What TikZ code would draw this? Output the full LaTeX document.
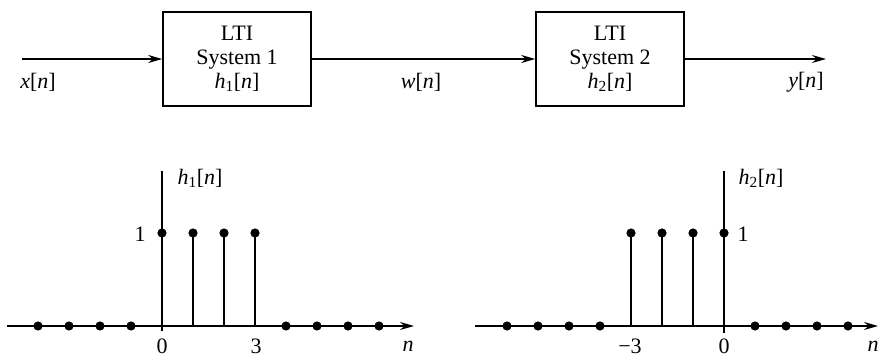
\documentclass[tikz,border=0pt]{standalone}
\usepackage{fontspec}
\setmainfont{Liberation Serif}
\usetikzlibrary{arrows.meta}

\tikzset{
  block/.style={draw, line width=1.6pt, minimum width=148pt, minimum height=94pt, align=center, inner sep=0pt},
  sig/.style={line width=1.6pt, -{Stealth[length=14pt, width=8pt]}},
  stem/.style={line width=1.6pt},
  lbl/.style={inner sep=0pt}
}
\newcommand{\sq}[1]{\textit{#1}[\textit{n}]}

\begin{document}
\begin{tikzpicture}[x=1pt, y=-1pt, font=\fontsize{22}{24}\selectfont]
\useasboundingbox (0,0) rectangle (883,358);

% Blocks
\node[block] (sys1) at (237,59) {LTI\\System 1\\\textit{h}\textsubscript{1}[\textit{n}]};
\node[block] (sys2) at (610,59) {LTI\\System 2\\\textit{h}\textsubscript{2}[\textit{n}]};

% Signals
\coordinate (in) at (22,59);
\coordinate (out) at (826,59);
\draw[sig] (in) -- (sys1);
\draw[sig] (sys1) -- (sys2);
\draw[sig] (sys2) -- (out);
\node[lbl] (xlab) at (38,82) {\sq{x}};
\node[lbl] (wlab) at (421,82) {\sq{w}};
\node[lbl] (ylab) at (806,82) {\sq{y}};

% Plot of h1[n]
\coordinate (ax1l) at (7,326);
\coordinate (ax1r) at (414,326);
\coordinate (ax1t) at (162,171);
\coordinate (ax1b) at (162,331);
\draw[sig] (ax1l) -- (ax1r);
\draw[stem] (ax1b) -- (ax1t);
\foreach \k in {-4,...,7} {
  \ifnum\k<0 \fill (162+31*\k,326) circle (4.6);
  \else\ifnum\k>3 \fill (162+31*\k,326) circle (4.6);
  \else
    \draw[stem] (162+31*\k,326) -- (162+31*\k,233);
    \fill (162+31*\k,233) circle (4.6);
  \fi\fi
}
\node[lbl] (h1lab) at (200,178) {\textit{h}\textsubscript{1}[\textit{n}]};
\node[lbl] (one1) at (140,234) {1};
\node[lbl] (zero1) at (162,346) {0};
\node[lbl] (three1) at (256,346) {3};
\node[lbl] (n1) at (408,346) {\textit{n}};

% Plot of h2[n]
\coordinate (ax2l) at (475,326);
\coordinate (ax2r) at (878,326);
\coordinate (ax2t) at (724,171);
\coordinate (ax2b) at (724,333);
\draw[sig] (ax2l) -- (ax2r);
\draw[stem] (ax2b) -- (ax2t);
\foreach \k in {-7,...,4} {
  \ifnum\k<-3 \fill (724+31*\k,326) circle (4.6);
  \else\ifnum\k>0 \fill (724+31*\k,326) circle (4.6);
  \else
    \draw[stem] (724+31*\k,326) -- (724+31*\k,233);
    \fill (724+31*\k,233) circle (4.6);
  \fi\fi
}
\node[lbl] (h2lab) at (761,178) {\textit{h}\textsubscript{2}[\textit{n}]};
\node[lbl] (one2) at (743,234) {1};
\node[lbl] (mthree2) at (630,346) {−3};
\node[lbl] (zero2) at (724,346) {0};
\node[lbl] (n2) at (873,346) {\textit{n}};

\end{tikzpicture}
\end{document}
